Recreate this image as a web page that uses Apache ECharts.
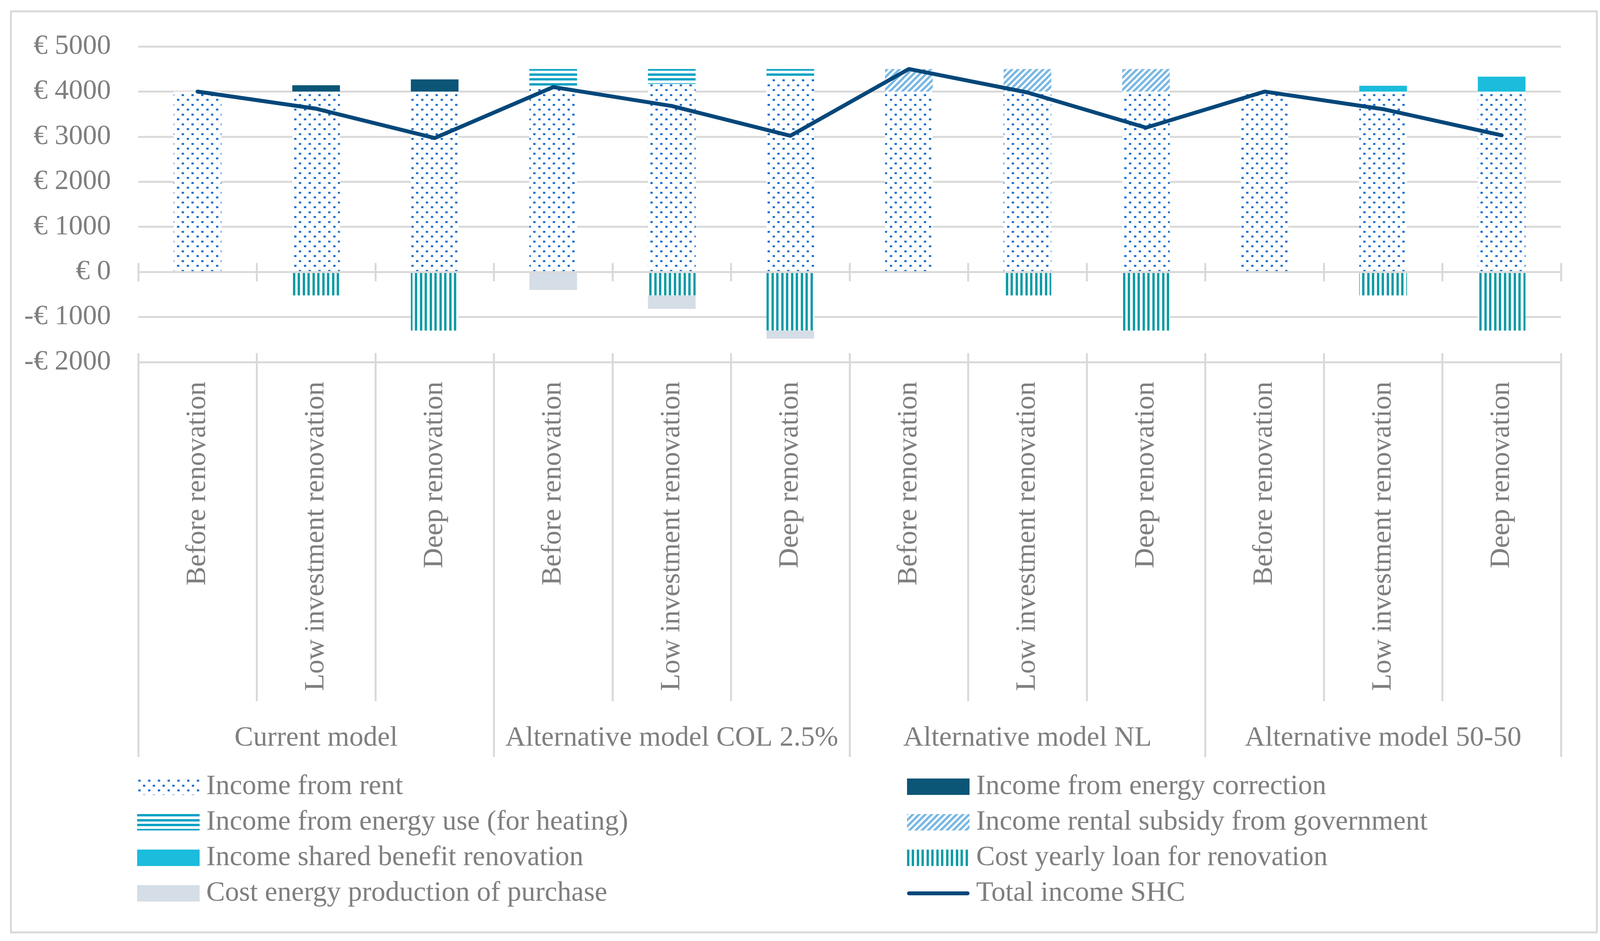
<!DOCTYPE html>
<html>
<head>
<meta charset="utf-8">
<script src="https://cdn.jsdelivr.net/npm/echarts@6/dist/echarts.min.js"></script>
<style>
html,body{margin:0;padding:0;background:#fff;overflow:hidden;}
#chart{width:4120px;height:2409px;}
</style>
</head>
<body>
<div id="chart"></div>
<script>
// ---- data ----
const categories = [
  'Before renovation','Low investment renovation','Deep renovation',
  'Before renovation','Low investment renovation','Deep renovation',
  'Before renovation','Low investment renovation','Deep renovation',
  'Before renovation','Low investment renovation','Deep renovation'
];
const groups = ['Current model','Alternative model COL 2.5%','Alternative model NL','Alternative model 50-50'];
const incomeRent        = [4000, 4000, 4000, 4090, 4170, 4310, 4000, 4000, 4000, 4000, 4000, 4000];
const incomeCorrection  = [0, 140, 270, 0, 0, 0, 0, 0, 0, 0, 0, 0];
const incomeEnergyUse   = [0, 0, 0, 410, 330, 190, 0, 0, 0, 0, 0, 0];
const incomeSubsidy     = [0, 0, 0, 0, 0, 0, 500, 500, 500, 0, 0, 0];
const incomeShared      = [0, 0, 0, 0, 0, 0, 0, 0, 0, 0, 130, 330];
const costLoan          = [0, -520, -1300, 0, -520, -1300, 0, -520, -1300, 0, -520, -1300];
const costEnergyProd    = [0, 0, 0, -400, -300, -180, 0, 0, 0, 0, 0, 0];
const totalIncome       = [4000, 3620, 2970, 4100, 3680, 3020, 4500, 3980, 3200, 4000, 3610, 3030];
const seriesNames = {
  rent: 'Income from rent',
  corr: 'Income from energy correction',
  use: 'Income from energy use (for heating)',
  sub: 'Income rental subsidy from government',
  shared: 'Income shared benefit renovation',
  loan: 'Cost yearly loan for renovation',
  prod: 'Cost energy production of purchase',
  total: 'Total income SHC'
};

// ---- patterns ----
function tile(w, h, draw) {
  const c = document.createElement('canvas');
  c.width = w; c.height = h;
  const ctx = c.getContext('2d');
  ctx.fillStyle = '#ffffff';
  ctx.fillRect(0, 0, w, h);
  draw(ctx);
  return { image: c, repeat: 'repeat' };
}
const patRent = tile(25, 25, ctx => {
  ctx.fillStyle = '#1f72cf';
  ctx.fillRect(3, 3, 6, 5);
  ctx.fillRect(15, 16, 6, 5);
});
const patUse = tile(25, 25, ctx => {
  ctx.fillStyle = '#06a1c4';
  ctx.fillRect(0, 0, 25, 6);
  ctx.fillRect(0, 13, 25, 6);
});
const patSub = tile(16, 16, ctx => {
  ctx.strokeStyle = '#7ab8e3';
  ctx.lineWidth = 6;
  ctx.beginPath();
  ctx.moveTo(-4, 20); ctx.lineTo(20, -4);
  ctx.moveTo(-4, 4); ctx.lineTo(4, -4);
  ctx.moveTo(12, 20); ctx.lineTo(20, 12);
  ctx.stroke();
});
const patLoan = tile(25, 25, ctx => {
  ctx.fillStyle = '#0a9ca6';
  ctx.fillRect(0, 0, 6, 25);
  ctx.fillRect(12, 0, 6, 25);
});

const FONT = 'Liberation Serif';
const TXT = '#7f7f7f';
const GRID = '#d9d9d9';
const FS = 72;
const LINE_COLOR = '#03477a';

function bar(name, data, color) {
  return {
    name, type: 'bar', stack: 'total', data, barWidth: 122,
    xAxisIndex: 0, yAxisIndex: 0,
    itemStyle: { color },
    emphasis: { disabled: true }
  };
}

const option = {
  animation: false,
  backgroundColor: '#ffffff',
  textStyle: { fontFamily: FONT },
  grid: { left: 354, right: 124, top: 119, bottom: 1482, containLabel: false, outerBoundsMode: 'none' },
  graphic: [{
    type: 'rect', silent: true, z: -10,
    shape: { x: 28, y: 29, width: 4060, height: 2358 },
    style: { fill: 'none', stroke: GRID, lineWidth: 5 }
  }],
  xAxis: [
    { // category labels + long separators
      type: 'category', data: categories, position: 'bottom',
      axisLine: { show: false, onZero: false },
      axisTick: { show: true, interval: 0, length: 868, lineStyle: { color: GRID, width: 5 } },
      axisLabel: { interval: 0, rotate: 90, margin: 50, fontSize: FS, fontFamily: FONT, color: TXT },
      splitLine: { show: false }
    },
    { // small inside ticks at bottom line
      type: 'category', data: categories, position: 'bottom',
      axisLine: { show: false, onZero: false },
      axisTick: { show: true, inside: true, interval: 0, length: 23, lineStyle: { color: GRID, width: 5 } },
      axisLabel: { show: false }, splitLine: { show: false }
    },
    { // zero line, upward ticks
      type: 'category', data: categories, position: 'bottom', z: 3,
      axisLine: { show: true, onZero: true, onZeroAxisIndex: 0, lineStyle: { color: GRID, width: 5 } },
      axisTick: { show: true, inside: true, interval: 0, length: 23, lineStyle: { color: GRID, width: 5 } },
      axisLabel: { show: false }, splitLine: { show: false }
    },
    { // zero line, downward ticks
      type: 'category', data: categories, position: 'bottom', z: 3,
      axisLine: { show: true, onZero: true, onZeroAxisIndex: 0, lineStyle: { color: GRID, width: 5 } },
      axisTick: { show: true, inside: false, interval: 0, length: 24, lineStyle: { color: GRID, width: 5 } },
      axisLabel: { show: false }, splitLine: { show: false }
    },
    { // group labels
      type: 'category', data: groups, position: 'bottom',
      axisLine: { show: false, onZero: false },
      axisTick: { show: true, interval: 0, length: 1011, lineStyle: { color: GRID, width: 5 } },
      axisLabel: { interval: 0, margin: 927, fontSize: FS, fontFamily: FONT, color: TXT },
      splitLine: { show: false }
    }
  ],
  yAxis: {
    type: 'value', min: -2000, max: 5000, interval: 1000,
    axisLine: { show: false }, axisTick: { show: false },
    splitLine: { show: true, lineStyle: { color: GRID, width: 5 } },
    axisLabel: {
      margin: 70, fontSize: FS, fontFamily: FONT, color: TXT,
      formatter: v => (v < 0 ? '-€ ' + (-v) : '€ ' + v)
    }
  },
  legend: [
    {
      orient: 'vertical', left: 351, top: 1978, padding: 0,
      itemWidth: 160, itemHeight: 42, itemGap: 19, icon: 'rect', selectedMode: false,
      textStyle: { fontSize: FS, lineHeight: 72, fontFamily: FONT, color: TXT, padding: [0, 0, 0, 12] },
      data: [seriesNames.rent, seriesNames.use, seriesNames.shared, seriesNames.prod]
    },
    {
      orient: 'vertical', left: 2322, top: 1978, padding: 0,
      itemWidth: 160, itemHeight: 42, itemGap: 19, selectedMode: false,
      textStyle: { fontSize: FS, lineHeight: 72, fontFamily: FONT, color: TXT, padding: [0, 0, 0, 12] },
      data: [
        { name: seriesNames.corr, icon: 'rect' },
        { name: seriesNames.sub, icon: 'rect' },
        { name: seriesNames.loan, icon: 'rect' },
        { name: seriesNames.total, icon: 'path://M5,0 L155,0 A5,5 0 0 1 155,10 L5,10 A5,5 0 0 1 5,0 Z',
          itemStyle: { color: LINE_COLOR, borderWidth: 0 } }
      ]
    }
  ],
  series: [
    bar(seriesNames.rent, incomeRent, patRent),
    bar(seriesNames.corr, incomeCorrection, '#0b5577'),
    bar(seriesNames.use, incomeEnergyUse, patUse),
    bar(seriesNames.sub, incomeSubsidy, patSub),
    bar(seriesNames.shared, incomeShared, '#1bbcdc'),
    bar(seriesNames.loan, costLoan, patLoan),
    bar(seriesNames.prod, costEnergyProd, '#d5dde6'),
    {
      name: seriesNames.total, type: 'line', data: totalIncome,
      xAxisIndex: 0, yAxisIndex: 0, z: 5,
      symbol: 'none', showSymbol: false,
      lineStyle: { color: LINE_COLOR, width: 10, cap: 'round', join: 'round' },
      itemStyle: { color: LINE_COLOR },
      emphasis: { disabled: true }
    }
  ]
};

const chart = echarts.init(document.getElementById('chart'), null, { renderer: 'canvas' });
chart.setOption(option);
</script>
</body>
</html>
